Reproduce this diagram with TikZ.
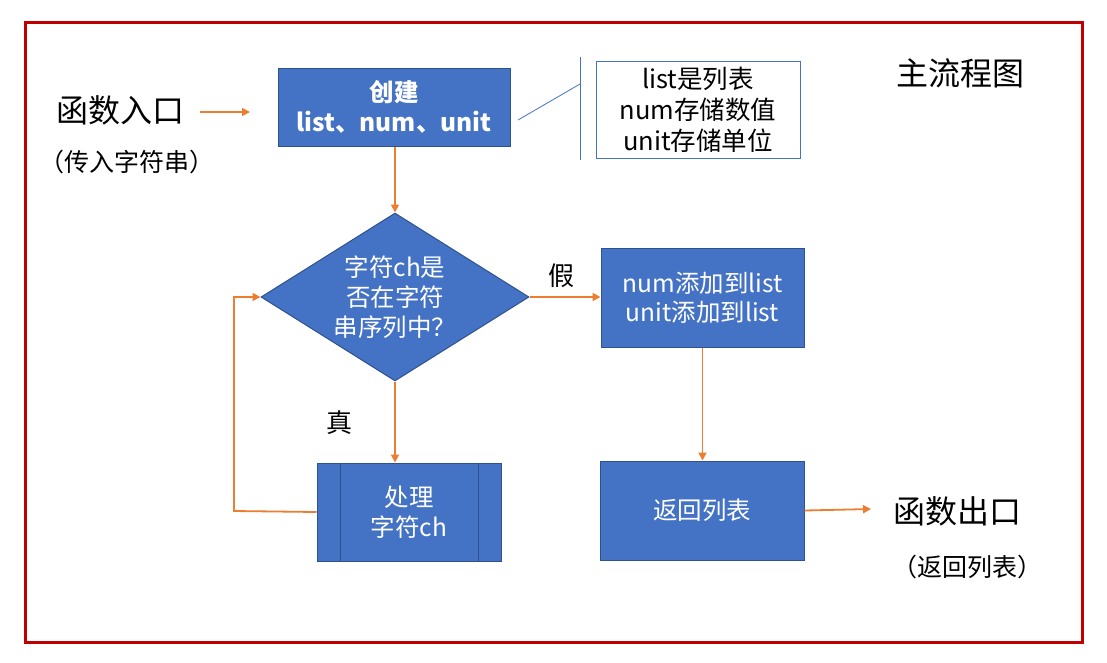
\documentclass[tikz,border=0pt]{standalone}
\usepackage{fontspec}
\setmainfont{Noto Sans CJK SC}
\usetikzlibrary{shapes.geometric,arrows.meta,calc}
\definecolor{boxblue}{HTML}{4472C4}
\definecolor{boxedge}{HTML}{2F528F}
\definecolor{arrorange}{HTML}{ED7D31}
\definecolor{framered}{HTML}{C00000}
\tikzset{
  bluebox/.style={draw=boxedge, line width=1pt, fill=boxblue, text=white, align=center, inner sep=0pt,
    font=\fontsize{24.5}{30}\selectfont},
  notebox/.style={draw=boxblue, line width=1pt, fill=white, align=center, inner sep=0pt,
    font=\fontsize{25.5}{31}\selectfont},
  bigtxt/.style={font=\fontsize{32}{36}\selectfont, inner sep=0pt},
  smalltxt/.style={font=\fontsize{25}{28}\selectfont, inner sep=0pt},
  flow/.style={draw=arrorange, line width=1.8pt, -{Triangle[length=8pt,width=8pt]}},
  calloutline/.style={draw=boxblue, line width=0.8pt},
}
\begin{document}
\begin{tikzpicture}[x=1pt,y=-1pt]
\useasboundingbox (0,0) rectangle (1107,662);
\draw[framered, line width=3pt] (25,22) rectangle (1082,642);

% texts
\node[bigtxt] (entry) at (120,110) {函数入口};
\node[smalltxt] (entrysub) at (127,162) {（传入字符串）};
\node[bigtxt] (title) at (960,73) {主流程图};
\node[bigtxt] (exit) at (957,511) {函数出口};
\node[smalltxt] (exitsub) at (967,567) {（返回列表）};

% boxes
\node[bluebox, minimum width=232pt, minimum height=78pt, font=\bfseries\fontsize{24.5}{30}\selectfont] (create) at (394,107) {创建\\list、num、unit};
\node[notebox, minimum width=204pt, minimum height=97pt] (note) at (698,109.5) {list是列表\\num存储数值\\unit存储单位};
\node[bluebox, shape=diamond, minimum width=268pt, minimum height=168pt, aspect=1.6] (cond) at (395,297) {字符ch是\\否在字符\\串序列中？};
\node[bluebox, minimum width=203pt, minimum height=99pt, font=\fontsize{24.5}{29}\selectfont] (add) at (702.5,297.5) {num添加到list\\unit添加到list};
\node[bluebox, minimum width=204pt, minimum height=99pt] (ret) at (702,510.5) {返回列表};
\node[bluebox, minimum width=184pt, minimum height=98pt] (proc) at (409,512) {处理\\字符ch};
\draw[boxedge, line width=1pt] ([xshift=24pt]proc.north west) -- ([xshift=24pt]proc.south west);
\draw[boxedge, line width=1pt] ([xshift=-23pt]proc.north east) -- ([xshift=-23pt]proc.south east);

% labels
\node[smalltxt, font=\fontsize{26}{28}\selectfont] (no) at (561,276) {假};
\node[smalltxt, font=\fontsize{26}{28}\selectfont] (yes) at (339,423) {真};

% callout
\coordinate (ctop) at (580,57);
\coordinate (cbot) at (580,160);
\coordinate (cmid) at (580,84);
\coordinate (cstart) at (518,120);
\draw[calloutline] (ctop) -- (cbot);
\draw[calloutline] (cstart) -- (cmid);

% connectors
\coordinate (entryend) at (250,112);
\coordinate (entrystart) at (200,112);
\draw[flow] (entrystart) -- (entryend);
\draw[flow] (create.south -| cond.north) -- (cond.north);
\draw[flow] (cond.east) -- (add.west |- cond.east);
\draw[flow] (cond.south) -- (cond.south |- proc.north);
\draw[flow] (add.south) -- (ret.north -| add.south);
\coordinate (exitend) at (871,509);
\draw[flow] (ret.east) -- (exitend);
\coordinate (loopl) at (234,511);
\draw[flow] (proc.west) -- (loopl) -- (loopl |- cond.west) -- (cond.west);
\end{tikzpicture}
\end{document}
